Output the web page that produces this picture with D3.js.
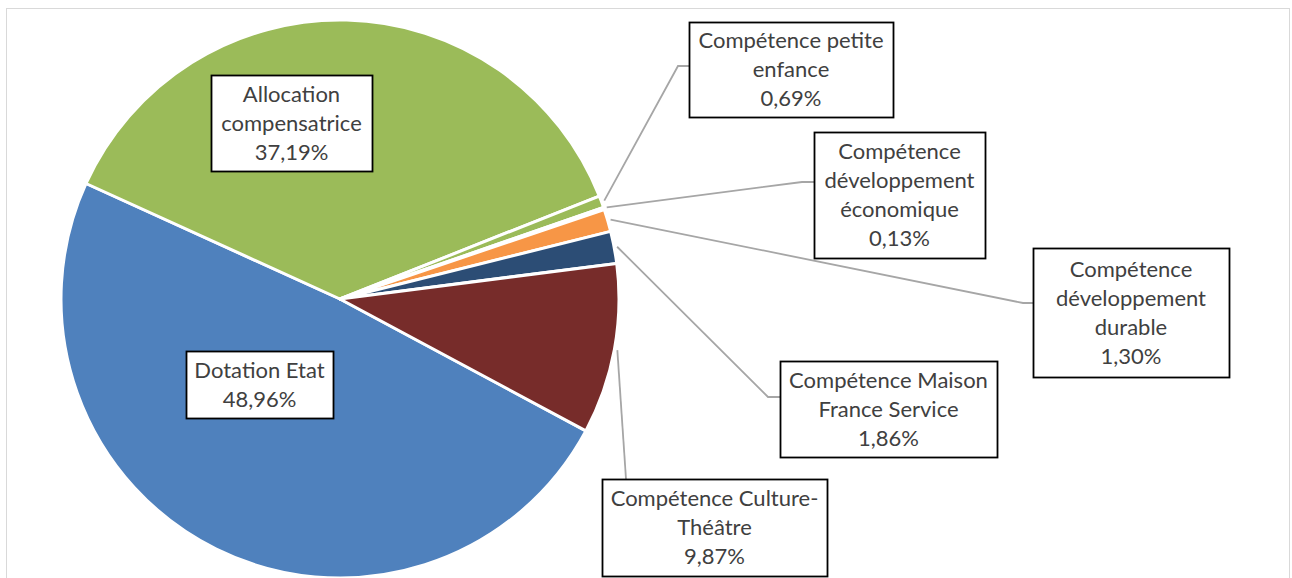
<!DOCTYPE html>
<html>
<head>
<meta charset="utf-8">
<script src="https://cdn.jsdelivr.net/npm/d3@7"></script>
<style>
  body { margin: 0; background: #fff; }
  svg { display: block; }
</style>
</head>
<body>
<div id="chart"></div>
<script>
const W = 1292, H = 578

// data
const categories = ["Dotation Etat", "Allocation compensatrice", "Compétence petite enfance",
  "Compétence développement économique", "Compétence développement durable",
  "Compétence Maison France Service", "Compétence Culture-Théâtre"]
const shares = [48.96, 37.19, 0.69, 0.13, 1.30, 1.86, 9.87]
const sliceColors = ["#4F81BD", "#9BBB59", "#9BBB59", "#8064A2", "#F79646", "#2C4D75", "#772C2A"]
const labelLines = [
  ["Dotation Etat"],
  ["Allocation", "compensatrice"],
  ["Compétence petite", "enfance"],
  ["Compétence", "développement", "économique"],
  ["Compétence", "développement", "durable"],
  ["Compétence Maison", "France Service"],
  ["Compétence Culture-", "Théâtre"]
]

// label box layout (x, y, w, h) and leader elbow / end points
const boxes = [
  { x: 186, y: 351, w: 147, h: 67 },
  { x: 211, y: 75, w: 161, h: 96 },
  { x: 689, y: 22, w: 204, h: 95, leader: [[678, 66], [689, 66]] },
  { x: 814, y: 132, w: 171, h: 126, leader: [[802, 182], [814, 182]] },
  { x: 1033, y: 248, w: 196, h: 129, leader: [[1023, 303], [1033, 303]] },
  { x: 780, y: 361, w: 217, h: 96, leader: [[768, 397], [780, 397]] },
  { x: 602, y: 479, w: 225, h: 97, leader: [[626, 479]] }
]

const CX = 340, CY = 299, R = 279
const LINE_H = 29

const fr = d3.formatLocale({ decimal: ",", thousands: " ", grouping: [3], currency: ["", " €"] })
const pct = v => fr.format(".2f")(v) + "%"

const svg = d3.select("#chart").append("svg")
  .attr("width", W)
  .attr("height", H)

svg.append("rect")
  .attr("x", 6.5).attr("y", 8.5)
  .attr("width", 1283).attr("height", 620)
  .attr("fill", "white")
  .attr("stroke", "#D9D9D9")
  .attr("stroke-width", 1)

const startA = 118.2 * Math.PI / 180
const pie = d3.pie().sort(null).value(d => d)
  .startAngle(startA).endAngle(startA + 2 * Math.PI)
const arcs = pie(shares)

const arc = d3.arc().innerRadius(0).outerRadius(R)
const edgeArc = d3.arc().innerRadius(R + 3).outerRadius(R + 3)

const g = svg.append("g").attr("transform", `translate(${CX}, ${CY})`)

g.selectAll("path.slice")
  .data(arcs)
  .enter()
  .append("path")
    .attr("class", "slice")
    .attr("d", arc)
    .attr("fill", (d, i) => sliceColors[i])
    .attr("stroke", "white")
    .attr("stroke-width", 3)
    .attr("stroke-linejoin", "round")

// leader lines
arcs.forEach(function(d, i) {
  const b = boxes[i]
  if (!b.leader) return
  const p = edgeArc.centroid(d)
  const pts = [[CX + p[0], CY + p[1]]].concat(b.leader)
  svg.append("path")
    .attr("d", d3.line()(pts))
    .attr("fill", "none")
    .attr("stroke", "#A6A6A6")
    .attr("stroke-width", 1.8)
})

// label boxes
const labels = svg.selectAll("g.lbl")
  .data(arcs)
  .enter()
  .append("g")
    .attr("class", "lbl")

labels.append("rect")
  .attr("x", (d, i) => boxes[i].x + 0.5)
  .attr("y", (d, i) => boxes[i].y + 0.5)
  .attr("width", (d, i) => boxes[i].w)
  .attr("height", (d, i) => boxes[i].h)
  .attr("fill", "white")
  .attr("stroke", "black")
  .attr("stroke-width", 1.8)

labels.each(function(d, i) {
  const b = boxes[i]
  const lines = labelLines[i].concat([pct(shares[i])])
  const mid = b.y + b.h / 2
  const top = mid - (lines.length - 1) * LINE_H / 2
  d3.select(this).selectAll("text")
    .data(lines)
    .enter()
    .append("text")
      .attr("x", b.x + b.w / 2)
      .attr("y", (t, k) => top + k * LINE_H)
      .attr("dy", "0.35em")
      .attr("text-anchor", "middle")
      .attr("fill", "#404040")
      .style("font-family", "Lato, 'Open Sans', sans-serif")
      .style("font-size", "22px")
      .text(t => t)
})
</script>
</body>
</html>
